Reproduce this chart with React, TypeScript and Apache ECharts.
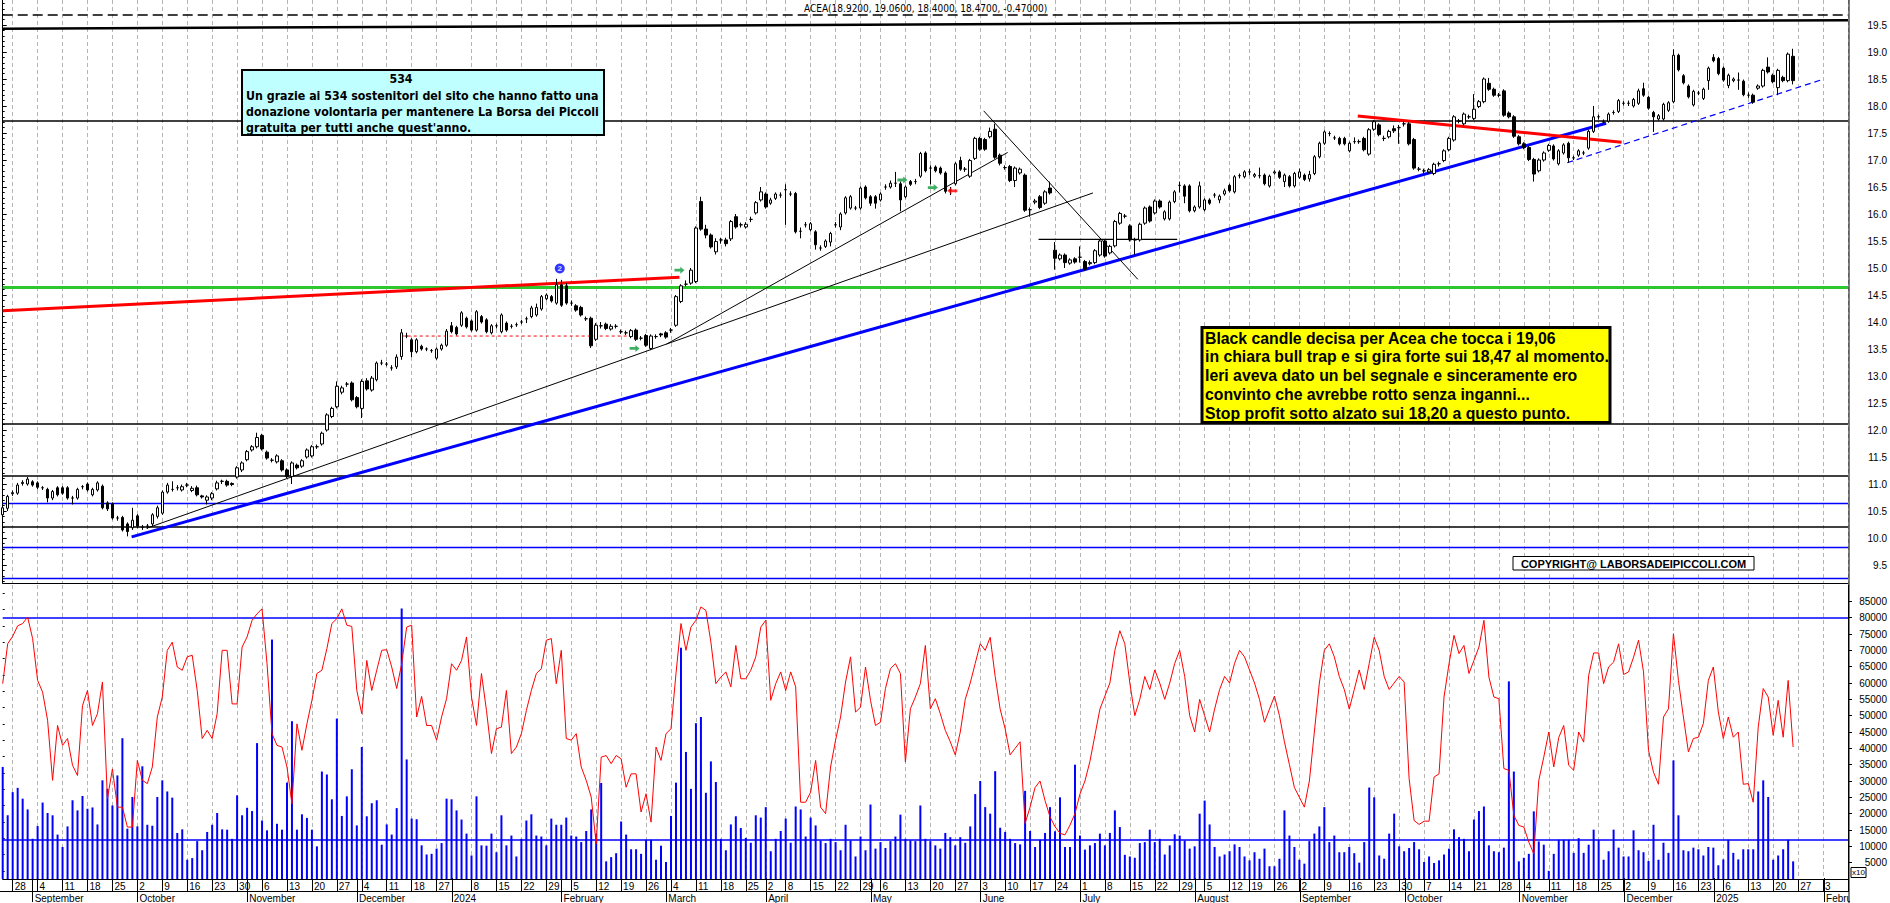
import React, { useEffect, useRef } from "react";
import * as echarts from "echarts";

// ---------------- calendar (trading days of Borsa Italiana) ----------------
const FIRST_DAY = "2023-08-24";
const SLOT_COUNT = 371;
const MARKET_HOLIDAYS = [
  "2023-12-25", "2023-12-26", "2024-01-01", "2024-03-29", "2024-04-01", "2024-05-01",
  "2024-08-15", "2024-12-24", "2024-12-25", "2024-12-26", "2024-12-31", "2025-01-01",
];
const MONTH_NAMES = ["January", "February", "March", "April", "May", "June", "July", "August", "September", "October", "November", "December"];

function buildTradingDays(): string[] {
  const out: string[] = [];
  const d = new Date(FIRST_DAY + "T00:00:00Z");
  while (out.length < SLOT_COUNT) {
    const dow = d.getUTCDay();
    const s = d.toISOString().slice(0, 10);
    if (dow !== 0 && dow !== 6 && MARKET_HOLIDAYS.indexOf(s) < 0) out.push(s);
    d.setUTCDate(d.getUTCDate() + 1);
  }
  return out;
}
const DATES = buildTradingDays();

// ---------------- price data: [open, close, low, high] ----------------
const CANDLES = [
  [10.43,10.56,10.39,10.60],[10.55,10.77,10.50,10.80],[10.82,10.84,10.78,10.88],[10.83,10.98,10.80,11.02],[11.01,11.03,10.97,11.07],
  [11.00,11.09,10.97,11.13],[11.04,10.98,10.95,11.07],[11.02,10.94,10.90,11.05],[10.93,10.93,10.89,10.96],[10.90,10.74,10.66,10.93],
  [10.74,10.86,10.70,10.89],[10.93,10.80,10.77,10.96],[10.93,10.83,10.80,10.96],[10.93,10.74,10.71,10.96],[10.74,10.74,10.62,10.78],
  [10.74,10.90,10.71,10.93],[10.95,10.95,10.90,10.98],[11.00,10.89,10.86,11.03],[10.80,10.90,10.77,10.93],[10.89,11.02,10.86,11.05],
  [10.96,10.56,10.53,10.99],[10.65,10.54,10.50,10.68],[10.63,10.37,10.34,10.66],[10.37,10.37,10.32,10.41],[10.38,10.15,10.12,10.41],
  [10.26,10.12,10.03,10.29],[10.19,10.33,10.15,10.56],[10.41,10.22,10.18,10.44],[10.20,10.20,10.15,10.24],[10.22,10.22,10.17,10.26],
  [10.26,10.43,10.22,10.46],[10.40,10.56,10.36,10.60],[10.46,10.85,10.43,10.88],[10.85,10.98,10.82,11.02],[10.90,10.90,10.86,11.05],
  [10.93,10.93,10.88,10.98],[10.89,10.95,10.86,10.99],[10.98,10.98,10.94,11.02],[10.88,10.92,10.85,10.96],[10.93,10.80,10.77,10.97],
  [10.78,10.76,10.73,10.80],[10.70,10.76,10.62,10.79],[10.74,10.82,10.70,10.85],[10.91,11.02,10.88,11.06],[11.05,11.05,11.00,11.08],
  [11.05,10.98,10.95,11.08],[11.01,10.99,10.96,11.03],[11.13,11.30,11.10,11.33],[11.26,11.39,11.22,11.42],[11.45,11.60,11.42,11.63],
  [11.63,11.69,11.60,11.72],[11.69,11.86,11.66,11.95],[11.90,11.65,11.62,11.93],[11.59,11.48,11.45,11.62],[11.44,11.44,11.40,11.48],
  [11.41,11.52,11.38,11.55],[11.43,11.26,11.23,11.46],[11.26,11.14,11.11,11.29],[11.14,11.39,11.00,11.42],[11.35,11.30,11.27,11.38],
  [11.33,11.43,11.30,11.46],[11.50,11.63,11.47,11.66],[11.52,11.69,11.49,11.72],[11.69,11.69,11.65,11.73],[11.74,11.94,11.71,11.97],
  [12.00,12.28,11.97,12.31],[12.25,12.40,12.22,12.43],[12.43,12.81,12.40,12.90],[12.70,12.78,12.66,12.82],[12.85,12.85,12.80,12.89],
  [12.87,12.56,12.53,12.90],[12.60,12.43,12.40,12.63],[12.40,12.90,12.22,12.94],[12.91,12.76,12.73,12.96],[12.74,12.96,12.71,13.00],
  [12.93,13.24,12.90,13.27],[13.24,13.24,13.20,13.30],[13.22,13.22,13.18,13.26],[13.15,13.15,13.10,13.20],[13.17,13.35,13.13,13.40],
  [13.36,13.80,13.30,13.87],[13.74,13.74,13.70,13.80],[13.67,13.45,13.35,13.70],[13.45,13.67,13.42,13.70],[13.55,13.50,13.47,13.58],
  [13.50,13.50,13.46,13.53],[13.47,13.47,13.43,13.50],[13.33,13.50,13.30,13.53],[13.50,13.57,13.47,13.60],[13.57,13.83,13.54,13.87],
  [13.93,13.82,13.79,14.00],[13.90,13.78,13.75,13.93],[13.94,14.17,13.91,14.20],[14.07,13.91,13.88,14.10],[14.02,13.85,13.82,14.05],
  [13.85,14.19,13.82,14.22],[14.10,14.00,13.97,14.13],[14.04,13.82,13.79,14.07],[13.80,13.93,13.77,13.96],[13.93,13.93,13.88,13.97],
  [13.82,14.13,13.79,14.16],[13.98,13.85,13.82,14.01],[13.92,13.92,13.88,13.96],[13.95,13.95,13.91,13.99],[14.00,14.00,13.96,14.04],
  [14.06,14.06,13.98,14.10],[14.10,14.26,14.07,14.30],[14.13,14.27,14.10,14.34],[14.24,14.47,14.21,14.50],[14.43,14.50,14.40,14.53],
  [14.47,14.39,14.36,14.50],[14.35,14.69,14.32,14.80],[14.69,14.31,14.28,14.78],[14.67,14.35,14.32,14.72],[14.35,14.35,14.30,14.40],
  [14.30,14.22,14.19,14.33],[14.27,14.13,14.10,14.30],[14.06,14.06,14.02,14.10],[14.07,13.56,13.52,14.10],[13.68,13.94,13.65,13.98],
  [13.93,13.93,13.88,14.00],[13.96,13.88,13.85,13.99],[13.87,13.92,13.84,13.96],[13.92,13.92,13.88,13.96],[13.82,13.82,13.78,13.86],
  [13.80,13.80,13.76,13.84],[13.73,13.84,13.70,13.87],[13.85,13.68,13.65,13.88],[13.70,13.70,13.66,13.74],[13.75,13.57,13.54,13.78],
  [13.51,13.74,13.48,13.77],[13.73,13.73,13.69,13.77],[13.78,13.76,13.72,13.80],[13.80,13.72,13.69,13.83],[13.85,13.85,13.80,13.89],
  [13.94,14.47,13.91,14.50],[14.38,14.67,14.35,14.70],[14.70,14.70,14.66,14.77],[14.72,14.96,14.69,15.00],[14.75,15.74,14.72,15.77],
  [16.23,15.72,15.69,16.32],[15.72,15.61,15.55,15.80],[15.61,15.39,15.36,15.64],[15.30,15.49,15.25,15.55],[15.52,15.52,15.45,15.56],
  [15.52,15.45,15.40,15.56],[15.54,15.86,15.50,15.89],[15.95,15.76,15.73,16.00],[15.80,15.80,15.75,15.84],[15.76,15.81,15.73,15.85],
  [15.90,15.90,15.85,15.95],[16.02,16.21,15.99,16.24],[16.26,16.41,16.23,16.50],[16.37,16.13,16.10,16.40],[16.20,16.26,16.17,16.30],
  [16.29,16.37,16.26,16.40],[16.35,16.35,16.30,16.40],[16.45,16.45,15.80,16.55],[16.37,16.37,16.33,16.42],[16.38,15.67,15.64,16.41],
  [15.68,15.68,15.55,15.75],[15.80,15.80,15.75,15.85],[15.71,15.82,15.68,15.85],[15.67,15.43,15.34,15.70],[15.37,15.37,15.32,15.42],
  [15.40,15.50,15.37,15.53],[15.48,15.64,15.40,15.67],[15.80,15.80,15.75,15.85],[15.76,16.00,15.70,16.03],[16.02,16.30,15.99,16.33],
  [16.11,16.32,16.08,16.35],[16.11,16.11,16.07,16.15],[16.11,16.48,16.08,16.51],[16.50,16.30,16.27,16.53],[16.32,16.20,16.15,16.35],
  [16.32,16.20,16.10,16.35],[16.26,16.37,16.23,16.40],[16.50,16.50,16.45,16.55],[16.50,16.57,16.47,16.62],[16.57,16.57,16.50,16.78],
  [16.56,16.26,16.05,16.60],[16.32,16.50,16.29,16.53],[16.60,16.55,16.52,16.63],[16.60,16.60,16.55,16.65],[16.70,17.12,16.67,17.15],
  [17.13,16.80,16.77,17.16],[16.85,16.85,16.55,16.90],[16.87,16.80,16.77,16.90],[16.85,16.76,16.73,16.88],[16.76,16.42,16.38,16.79],
  [16.44,16.44,16.35,16.50],[16.56,16.93,16.53,16.96],[16.99,16.83,16.80,17.06],[16.83,16.83,16.78,16.87],[16.70,16.99,16.67,17.02],
  [17.03,17.40,17.00,17.43],[17.40,17.20,17.17,17.43],[17.38,17.20,17.17,17.41],[17.43,17.53,17.40,17.60],[17.57,17.05,17.02,17.67],
  [17.09,16.94,16.90,17.12],[16.86,16.86,16.82,16.90],[16.88,16.62,16.59,16.91],[16.62,16.85,16.50,16.88],[16.76,16.83,16.73,16.86],
  [16.72,16.07,16.04,16.75],[16.08,16.08,15.95,16.12],[16.22,16.24,16.18,16.28],[16.32,16.12,16.09,16.35],[16.20,16.41,16.17,16.44],
  [16.48,16.39,16.36,16.60],[15.33,15.18,14.97,15.48],[15.17,15.24,15.14,15.27],[15.24,15.10,15.00,15.27],[15.09,15.15,15.06,15.18],
  [15.17,15.11,15.08,15.20],[15.20,15.20,15.10,15.40],[15.12,14.98,14.95,15.15],[15.08,15.10,15.05,15.14],[15.10,15.32,15.07,15.35],
  [15.24,15.50,15.21,15.53],[15.50,15.22,15.19,15.53],[15.28,15.40,15.25,15.43],[15.41,15.86,15.38,15.89],[15.83,16.01,15.80,16.04],
  [15.96,15.96,15.92,16.00],[15.78,15.52,15.49,15.81],[15.52,15.52,15.25,15.56],[15.52,15.81,15.49,15.84],[15.83,16.11,15.80,16.14],
  [16.13,15.87,15.84,16.16],[16.02,16.24,15.99,16.27],[16.24,16.13,16.10,16.27],[15.91,16.04,15.88,16.07],[15.91,16.22,15.88,16.25],
  [16.23,16.41,16.20,16.44],[16.53,16.53,16.40,16.60],[16.52,16.33,16.20,16.55],[16.52,16.06,16.03,16.55],[16.06,16.13,16.03,16.16],
  [16.13,16.52,16.10,16.60],[16.08,16.26,16.05,16.29],[16.26,16.20,16.17,16.29],[16.35,16.35,16.30,16.39],[16.26,16.33,16.20,16.36],
  [16.37,16.43,16.34,16.47],[16.53,16.43,16.40,16.56],[16.41,16.69,16.38,16.72],[16.71,16.71,16.66,16.75],[16.69,16.78,16.66,16.81],
  [16.78,16.78,16.72,16.83],[16.70,16.73,16.67,16.76],[16.71,16.71,16.66,16.86],[16.72,16.56,16.53,16.75],[16.52,16.70,16.49,16.73],
  [16.76,16.78,16.73,16.81],[16.78,16.68,16.65,16.81],[16.60,16.72,16.50,16.75],[16.69,16.52,16.49,16.72],[16.52,16.75,16.49,16.78],
  [16.68,16.78,16.65,16.84],[16.72,16.64,16.61,16.75],[16.65,16.73,16.60,16.80],[16.75,17.06,16.72,17.09],[17.06,17.31,17.03,17.34],
  [17.31,17.52,17.28,17.55],[17.49,17.49,17.44,17.53],[17.41,17.41,17.37,17.45],[17.40,17.30,17.27,17.43],[17.40,17.30,17.27,17.43],
  [17.17,17.31,17.14,17.34],[17.34,17.34,17.30,17.42],[17.34,17.34,17.30,17.38],[17.40,17.19,17.16,17.43],[17.11,17.56,17.08,17.59],
  [17.57,17.71,17.54,17.74],[17.65,17.47,17.44,17.68],[17.40,17.40,17.35,17.45],[17.43,17.53,17.40,17.56],[17.58,17.54,17.50,17.64],
  [17.60,17.60,17.30,17.65],[17.67,17.67,17.62,17.72],[17.67,17.30,17.27,17.70],[17.38,16.85,16.82,17.41],[16.83,16.83,16.79,16.87],
  [16.80,16.80,16.76,16.84],[16.78,16.82,16.75,16.85],[16.75,16.92,16.72,16.95],[16.93,16.93,16.88,16.97],[16.99,17.17,16.96,17.20],
  [17.19,17.40,17.16,17.43],[17.37,17.80,17.34,17.83],[17.72,17.72,17.68,17.76],[17.67,17.85,17.64,17.88],[17.80,17.80,17.76,17.84],
  [17.77,17.94,17.74,18.22],[17.99,18.08,17.96,18.11],[18.08,18.50,18.05,18.53],[18.42,18.31,18.28,18.52],[18.31,18.20,18.17,18.34],
  [18.20,18.20,18.16,18.24],[18.28,17.83,17.80,18.31],[17.87,17.80,17.77,17.90],[17.80,17.44,17.41,17.83],[17.43,17.30,17.27,17.46],
  [17.30,17.23,17.20,17.33],[17.23,17.01,16.98,17.26],[17.01,16.74,16.60,17.04],[16.80,17.00,16.77,17.03],[17.00,17.13,16.97,17.16],
  [17.18,17.27,17.15,17.30],[17.26,17.02,16.99,17.29],[16.93,17.17,16.90,17.20],[17.13,17.28,17.10,17.31],[17.31,17.04,16.95,17.34],
  [17.04,17.04,17.00,17.08],[17.09,17.17,17.06,17.20],[17.13,17.13,17.09,17.17],[17.22,17.53,17.19,17.56],[17.53,17.80,17.50,18.00],
  [17.80,17.80,17.75,17.84],[17.70,17.71,17.67,17.75],[17.72,17.85,17.69,17.88],[17.88,17.88,17.84,17.92],[17.90,18.10,17.87,18.13],
  [18.05,18.05,18.01,18.09],[18.05,18.05,18.00,18.10],[18.00,18.12,17.97,18.15],[18.05,18.28,18.02,18.32],[18.32,18.20,18.17,18.43],
  [18.16,17.96,17.93,18.19],[17.88,17.80,17.52,17.91],[17.76,17.82,17.73,17.85],[17.76,18.03,17.73,18.06],[17.92,18.06,17.89,18.09],
  [18.08,18.94,18.05,19.05],[18.94,18.67,18.64,18.97],[18.56,18.43,18.40,18.59],[18.37,18.17,18.14,18.40],[18.02,18.27,17.99,18.30],
  [18.24,18.24,18.20,18.28],[18.14,18.31,18.11,18.34],[18.47,18.70,18.30,18.73],[18.90,18.84,18.81,18.96],[18.88,18.60,18.57,18.91],
  [18.70,18.48,18.45,18.73],[18.38,18.57,18.33,18.60],[18.47,18.50,18.44,18.53],[18.48,18.48,18.30,18.62],[18.46,18.21,18.18,18.49],
  [18.20,18.20,18.15,18.25],[18.20,18.07,18.04,18.23],[18.33,18.37,18.30,18.40],[18.37,18.66,18.34,18.69],[18.72,18.63,18.60,18.90],
  [18.57,18.45,18.42,18.60],[18.34,18.66,18.20,18.69],[18.53,18.47,18.44,18.56],[18.47,18.96,18.44,18.99],[18.92,18.47,18.40,19.06],
];

// ---------------- lower panel: volume (thousands) and red oscillator ----------------
const VOLUME_K = [
  34.3,19.5,26.6,27.9,24.6,21.3,12.3,16.2,23.4,20.2, 19.5,13.6,9.8,16.1,24.1,21.0,25.4,21.5,21.9,16.7,
  30.2,27.6,22.5,31.7,43.1,15.4,25.1,16.1,34.5,16.6, 16.3,25.1,30.2,26.8,24.9,14.1,15.2,5.9,6.4,11.6,
  8.8,14.4,16.6,20.2,15.2,15.1,12.3,25.6,19.5,21.8, 20.8,41.6,17.9,14.9,73.3,16.9,15.1,29.5,48.3,15.1,
  19.8,18.7,15.1,10.0,32.9,32.0,24.4,49.1,19.3,25.3, 33.6,16.4,40.4,19.2,23.2,24.1,10.5,16.7,13.6,21.7,
  82.8,36.6,18.5,18.3,10.3,7.5,7.7,9.3,11.0,24.6, 24.4,21.0,18.2,13.9,7.2,25.3,10.3,10.2,13.9,8.2,
  19.5,10.3,13.3,6.9,12.3,17.9,19.8,13.3,13.0,10.3, 18.5,16.6,16.6,18.8,13.3,13.0,11.3,14.7,21.3,13.9,
  29.4,5.4,6.7,7.9,17.6,13.6,9.1,9.1,7.7,12.0, 12.0,5.9,10.2,5.2,19.3,29.5,70.8,38.9,27.6,47.7,
  49.6,26.4,36.0,29.7,12.3,8.8,16.7,19.2,15.6,12.6, 11.1,19.5,18.8,22.0,8.5,12.3,14.7,18.5,11.1,22.2,
  21.3,13.0,18.8,16.4,11.8,11.0,12.3,11.3,8.8,16.6, 11.8,6.9,13.0,8.8,22.8,9.3,11.3,9.5,11.6,13.0,
  19.7,12.3,11.8,11.6,22.5,12.3,11.6,10.3,
  9.3,14.1,12.8,10.3,12.8,11.1,16.1,26,30,22, 20,33,15.7,14.4,12.3,11.0,10.6,27,14.7,9.8,
  12.0,14.1,22,14.6,25,9.8,9.8,35,13.3,9.0, 10.3,11.0,13.9,10.3,14.1,21,15.9,7.4,6.9,6.5,
  11.0,11.3,15.1,11.3,12.3,7.5,10.3,13.7,13.3,11.8, 9.3,10.0,20,24,16.7,9.8,6.9,7.5,8.5,10.6,
  9.8,6.9,5.7,8.2,6.2,9.3,3.9,3.9,6.2,21, 13.3,9.8,5.9,4.7,11.6,13.9,16.1,22,11.3,13.3,
  8.2,8.2,9.8,7.9,5.0,11.3,28,25,7.2,6.2, 13.9,20,10.0,
  8.5,9.5,11.3,9.1,5.2,6.9,4.9,5.7,7.5,9.3, 15.2,12.8,12.3,8.5,18.2,20.8,22.2,10.3,8.5,8.2,
  9.6,60.5,32.9,5.4,6.5,7.7,20.7,11.5,10.5,2.5, 7.7,12.0,12.0,12.0,8.0,12.5,8.0,10.5,15.1,12.0,
  5.9,8.5,15.1,9.6,6.9,6.9,14.9,8.8,8.2,5.5, 16.6,5.9,11.1,8.0,36.3,19.5,8.8,8.5,9.6,9.1,
  7.2,9.8,9.6,4.2,6.0,12.0,8.0,6.0,9.1,9.1, 9.1,26.8,30.2,25.1,5.9,7.2,9.1,12.0,5.4,
];

const OSC_K = [
  59.8,72.0,74.3,77.5,78.2,
  80.2,73.6,60.8,57.2,48.6,30.2,47.0,40.9,43.0,34.8, 31.7,53.1,57.7,47.0,50.6,60.3,24.6,33.7,22.0,22.0,
  15.9,15.9,36.3,30.2,29.2,34.3,49.6,55.7,70.0,72.5, 64.9,63.9,68.0,68.5,57.7,43.0,45.5,43.0,50.6,70.0,
  70.0,53.6,53.6,71.0,74.1,79.2,81.2,82.7,65.9,44.5, 40.9,40.4,34.3,23.0,47.5,39.4,47.5,54.7,62.9,63.9,
  70.5,78.2,79.7,82.7,77.7,77.3,57.7,50.6,66.9,57.7, 63.9,70.0,70.2,64.9,58.3,65.9,77.1,77.7,49.6,55.9,
  47.0,47.0,42.5,49.6,55.2,65.9,63.9,66.9,74.1,55.7, 47.0,62.9,51.6,38.4,46.0,46.5,57.7,38.4,40.4,44.5,
  51.6,57.7,62.9,64.4,73.1,73.6,59.8,70.0,43.0,42.5, 44.5,34.3,30.2,25.1,10.8,37.3,37.8,35.3,37.8,36.8,
  28.1,32.2,32.2,20.5,26.1,17.4,40.4,36.3,44.5,46.0, 62.9,78.2,70.0,77.1,79.2,83.3,82.2,72.5,59.8,61.8,
  63.4,58.8,71.5,61.3,61.3,63.9,68.0,77.1,79.2,54.7, 59.8,63.4,57.7,63.4,58.8,23.5,23.5,26.6,36.3,22.0,
  20.0,34.3,42.5,49.6,60.3,68.0,51.1,52.6,64.9,54.7, 47.0,48.0,58.3,64.4,65.9,62.9,35.8,52.1,55.7,59.8,
  71.5,52.1,55.2,50.6,45.5,
  42,38,45,55,60,66,72,70,74,62, 52,46,38,40,42,17,22,28,30,24,
  19,16,14,13.5,16.5,20,26,30,36,44, 52,56,60,70,76,72,60,50,55,62,
  58,64,60,55,60,66,70,62,50,45, 55,50,45,52,58,62,60,66,70,68,
  64,60,55,48,52,56,50,42,35,28, 25,22,30,45,60,70,72,68,62,58,
  52,58,64,58,66,74,70,62,58,60, 62,
  60.3,30.7,17.9,16.7,17.7,17.7,31.2,32.2,55.7,65.9, 74.6,69.0,71.5,62.9,66.9,71.0,79.2,61.8,55.7,55.2,
  33.8,33.3,19.5,16.4,15.9,11.3,7.7,30.2,37.3,45.0, 34.3,43.3,47.0,34.8,33.3,45.0,41.9,62.3,69.2,69.2,
  59.8,64.9,66.4,72.0,62.6,63.4,67.9,73.1,63.4,39.4, 32.7,29.0,49.6,52.1,75.1,60.8,49.6,38.9,43.0,43.4,
  47.6,60.8,64.9,51.1,43.0,49.6,43.4,45.0,29.0,29.2, 23.5,46.5,58.3,55.7,44.0,54.7,43.4,60.8,40.4,
];

// ---------------- axes ticks / levels / drawn lines ----------------
const PRICE_TICKS = [9.5,10,10.5,11,11.5,12,12.5,13,13.5,14,14.5,15,15.5,16,16.5,17,17.5,18,18.5,19,19.5];
const VOLUME_TICKS = [5,10,15,20,25,30,35,40,45,50,55,60,65,70,75,80,85];
const BLACK_LEVELS = [17.735, 12.105, 11.15, 10.198];
const BLUE_LEVELS = [10.64, 9.828, 9.254];
const GREEN_LEVEL = 14.64;
const TOP_DASHED_LEVEL = 19.69;
const VOLUME_LEVELS = [80, 12];

// trend lines: [dayIndex, price]
const TL_TOP = [[0, 19.43], [370, 19.59]];
const TL_BLUE = [[25.85, 10.02], [321.5, 17.68]];
const TL_THIN_A = [[28.86, 10.18], [218.6, 16.39]];
const TL_THIN_B = [[133.1, 13.59], [201.5, 17.14]];
const TL_THIN_DOWN = [[196.7, 17.91], [227.6, 14.79]];
const TL_FLAT = [[207.7, 15.53], [235.5, 15.53]];
const TL_RED_LEFT = [[0, 14.21], [135.7, 14.83]];
const TL_RED_DASH = [[80.0, 13.74], [126.1, 13.74]];
const TL_RED_RIGHT = [[271.7, 17.815], [324.6, 17.33]];
const TL_BLUE_DASH = [[313.7, 16.95], [364.5, 18.48]];

const GREEN_ARROWS = [[126.7, 13.51], [135.7, 14.96], [180.4, 16.63], [186.5, 16.49]];
const RED_ARROWS = [[190.4, 16.43]];
const SIGNAL_TWO = [[111.7, 14.99]];

const NOTE_BLUE = [
  "Un grazie ai 534 sostenitori del sito che hanno fatto una",
  "donazione volontaria per mantenere La Borsa dei Piccoli",
  "gratuita per tutti anche quest'anno.",
];
const NOTE_YELLOW = [
  "Black candle decisa per Acea che tocca i 19,06",
  "in chiara bull trap e si gira forte sui 18,47 al momento.",
  "Ieri aveva dato un bel segnale e sinceramente ero",
  "convinto che avrebbe rotto senza inganni...",
  "Stop profit sotto alzato sui 18,20 a questo punto.",
];
const HEADER = "ACEA(18.9200, 19.0600, 18.4000, 18.4700, -0.47000)";

// ---------------- helpers ----------------
const FONT = "'Liberation Sans', Arial, Helvetica, sans-serif";
const NARROW = "'Liberation Sans Narrow', 'Arial Narrow', 'DejaVu Sans Condensed', 'Liberation Sans', sans-serif";
const utc = (s: string) => new Date(s + "T00:00:00Z");

const WEEK_MARK: boolean[] = DATES.map((s, i) => {
  if (i === 0) return false;
  const a = utc(DATES[i - 1]);
  const b = utc(s);
  const isStart = b.getUTCDay() < a.getUTCDay() || (b.getTime() - a.getTime()) / 86400000 >= 7;
  if (!isStart) return false;
  const mon = new Date(b.getTime() - (b.getUTCDay() - 1) * 86400000);
  const fri = new Date(mon.getTime() + 4 * 86400000);
  const hasNewYear = mon.getUTCFullYear() !== fri.getUTCFullYear() || (mon.getUTCMonth() === 0 && mon.getUTCDate() === 1);
  return !hasNewYear;
});
const MONTH_MARK: boolean[] = DATES.map((s, i) => i > 0 && s.slice(5, 7) !== DATES[i - 1].slice(5, 7));

const PRICE_MINOR: number[] = [];
for (let k = 92; k <= 199; k++) if (k % 5 !== 0) PRICE_MINOR.push(k / 10);
const VOLUME_MINOR: number[] = [];
for (let k = 1; k <= 35; k += 2) VOLUME_MINOR.push(k * 2.5);

const GRID_LEFT = 2.7;
const GRID_RIGHT = 41;
const P_MAX = 19.5 + 25 / 54;
const P_MIN = P_MAX - 583 / 54;

function trend(data: number[][], color: string, width: number, type: any = "solid", z = 6) {
  return {
    type: "line", xAxisIndex: 1, yAxisIndex: 0, data, symbol: "none", showSymbol: false,
    silent: true, z, lineStyle: { color, width, type }, animation: false,
  };
}

function txt(text: string, x: number, y: number, font: string, align = "left", z = 101) {
  return {
    type: "text", x, y, z,
    style: { text, font, fill: "#000", textAlign: align, align, textVerticalAlign: "middle", verticalAlign: "middle" },
  };
}

function buildOption(): any {
  const yHidden = (grid: number) => ({ gridIndex: grid, type: "value", show: false, min: 0, max: 1 });
  const xHidden = (grid: number) => ({ gridIndex: grid, type: "value", show: false, min: 0, max: SLOT_COUNT - 1 });
  const gridLine = { show: true, interval: (i: number) => WEEK_MARK[i], lineStyle: { color: "#b4b4b4", type: [4, 3], width: 1 } };
  const axisText = { fontFamily: FONT, fontSize: 10, color: "#000" };

  const graphics: any[] = [
    txt(HEADER, 804, 8, `10px ${NARROW}`),
    { type: "rect", z: 100, shape: { x: 242, y: 70, width: 362, height: 65 }, style: { fill: "#C0FFFF", stroke: "#000", lineWidth: 2 } },
    txt("534", 401, 78.5, `bold 12.3px ${NARROW}`, "center"),
    ...NOTE_BLUE.map((t, k) => txt(t, 246, 95.5 + k * 16.3, `bold 12.3px ${NARROW}`)),
    { type: "rect", z: 100, shape: { x: 1202, y: 327.5, width: 408, height: 95 }, style: { fill: "#FFFF00", stroke: "#000", lineWidth: 3 } },
    ...NOTE_YELLOW.map((t, k) => txt(t, 1205, 338 + k * 18.8, `bold 15.8px ${FONT}`)),
    { type: "rect", z: 100, shape: { x: 1513, y: 556.5, width: 241, height: 13.5 }, style: { fill: "#fff", stroke: "#000", lineWidth: 1 } },
    txt("COPYRIGHT@ LABORSADEIPICCOLI.COM", 1633.5, 563.5, `bold 11px ${FONT}`, "center"),
    { type: "rect", z: 100, shape: { x: 1850, y: 879.5, width: 40, height: 23.5 }, style: { fill: "#fff" } },
    { type: "line", z: 101, shape: { x1: 0, y1: 891.5, x2: 1849, y2: 891.5 }, style: { stroke: "#000", lineWidth: 1 } },
    { type: "line", z: 101, shape: { x1: 1849, y1: 0, x2: 1849, y2: 903 }, style: { stroke: "#000", lineWidth: 1 } },
    { type: "rect", z: 100, shape: { x: 1851, y: 867.5, width: 15, height: 10 }, style: { fill: "#fff", stroke: "#000", lineWidth: 1 } },
    txt("x10", 1858.5, 872.5, `8px ${FONT}`, "center"),
  ];

  return {
    animation: false,
    backgroundColor: "#ffffff",
    grid: [
      { left: GRID_LEFT, right: GRID_RIGHT, top: 0, height: 583 },
      { left: GRID_LEFT, right: GRID_RIGHT, top: 585, height: 294 },
      { left: GRID_LEFT, right: GRID_RIGHT, top: 585, height: 294 },
      { left: GRID_LEFT, right: GRID_RIGHT, top: 0, height: 583 },
      { left: GRID_LEFT, right: GRID_RIGHT, top: 585, height: 294 },
    ],
    xAxis: [
      {
        gridIndex: 0, type: "category", data: DATES, boundaryGap: false,
        axisLine: { show: true, lineStyle: { color: "#000", width: 1 } },
        axisTick: { show: false }, axisLabel: { show: false }, splitLine: gridLine,
      },
      xHidden(0),
      {
        gridIndex: 1, type: "category", data: DATES, boundaryGap: false,
        axisLine: { show: true, lineStyle: { color: "#000", width: 1 } },
        axisTick: { show: true, interval: (i: number) => WEEK_MARK[i], length: 13, lineStyle: { color: "#000" } },
        axisLabel: {
          ...axisText, interval: (i: number) => WEEK_MARK[i] && i < SLOT_COUNT - 2,
          formatter: (v: string) => String(parseInt(v.slice(8), 10)), align: "left", margin: 2, padding: [0, 0, 0, 2],
        },
        splitLine: gridLine,
      },
      {
        gridIndex: 2, type: "category", data: DATES, boundaryGap: false,
        axisLine: { show: false },
        axisTick: { show: true, interval: (i: number) => MONTH_MARK[i], length: 24, lineStyle: { color: "#000" } },
        axisLabel: {
          ...axisText, interval: (i: number) => MONTH_MARK[i],
          formatter: (v: string) => { const m = parseInt(v.slice(5, 7), 10); return m === 1 ? v.slice(0, 4) : MONTH_NAMES[m - 1]; },
          align: "left", margin: 15, padding: [0, 0, 0, 2],
        },
        splitLine: { show: false },
      },
      xHidden(3),
      xHidden(4),
    ],
    yAxis: [
      {
        gridIndex: 0, type: "value", position: "right", min: P_MIN, max: P_MAX,
        axisLine: { show: true, lineStyle: { color: "#000" } },
        axisTick: { show: true, customValues: PRICE_TICKS, length: 4, lineStyle: { color: "#000" } },
        axisLabel: { ...axisText, customValues: PRICE_TICKS, formatter: (v: number) => v.toFixed(1), align: "right", margin: 39 },
        splitLine: { show: false },
      },
      {
        gridIndex: 1, type: "value", position: "right", min: 0, max: 90,
        axisLine: { show: true, lineStyle: { color: "#000" } },
        axisTick: { show: true, customValues: VOLUME_TICKS, length: 4, lineStyle: { color: "#000" } },
        axisLabel: { ...axisText, customValues: VOLUME_TICKS, formatter: (v: number) => String(Math.round(v * 1000)), align: "right", margin: 39 },
        splitLine: { show: false },
      },
      yHidden(2),
      {
        gridIndex: 3, type: "value", position: "right", min: P_MIN, max: P_MAX,
        axisLine: { show: false },
        axisTick: { show: true, customValues: PRICE_MINOR, length: 2, lineStyle: { color: "#000" } },
        axisLabel: { show: false }, splitLine: { show: false },
      },
      {
        gridIndex: 4, type: "value", position: "right", min: 0, max: 90,
        axisLine: { show: false },
        axisTick: { show: true, customValues: VOLUME_MINOR, length: 2, lineStyle: { color: "#000" } },
        axisLabel: { show: false }, splitLine: { show: false },
      },
    ],
    series: [
      {
        type: "candlestick", xAxisIndex: 0, yAxisIndex: 0, data: CANDLES, barWidth: 3, clip: false, z: 8,
        itemStyle: { color: "#ffffff", color0: "#000000", borderColor: "#000000", borderColor0: "#000000", borderWidth: 1 },
        markLine: {
          symbol: ["none", "none"], silent: true, animation: false, label: { show: false },
          data: [
            { yAxis: TOP_DASHED_LEVEL, lineStyle: { color: "#000", width: 1.5, type: [10, 5] } },
            ...BLACK_LEVELS.map((v) => ({ yAxis: v, lineStyle: { color: "#000", width: 1.5, type: "solid" } })),
            ...BLUE_LEVELS.map((v) => ({ yAxis: v, lineStyle: { color: "#0000ff", width: 1.3, type: "solid" } })),
            { yAxis: GREEN_LEVEL, lineStyle: { color: "#2ec82e", width: 3, type: "solid" } },
          ],
        },
      },
      trend(TL_TOP, "#000", 2.5),
      trend(TL_BLUE, "#0000ff", 3),
      trend(TL_THIN_A, "#000", 1),
      trend(TL_THIN_B, "#000", 1),
      trend(TL_THIN_DOWN, "#000", 1),
      trend(TL_FLAT, "#000", 1.2),
      trend(TL_RED_LEFT, "#ff0000", 3),
      trend(TL_RED_DASH, "#ff0000", 1, [3, 3]),
      trend(TL_RED_RIGHT, "#ff0000", 3),
      trend(TL_BLUE_DASH, "#0000ff", 1.2, [6, 4]),
      {
        type: "scatter", xAxisIndex: 1, yAxisIndex: 0, data: GREEN_ARROWS, z: 12, silent: true,
        symbol: "path://M0,3 L7,3 L7,0 L12,5 L7,10 L7,7 L0,7 Z", symbolSize: [10, 7],
        itemStyle: { color: "#109a3c" },
      },
      {
        type: "scatter", xAxisIndex: 1, yAxisIndex: 0, data: RED_ARROWS, z: 12, silent: true,
        symbol: "path://M12,3 L5,3 L5,0 L0,5 L5,10 L5,7 L12,7 Z", symbolSize: [10, 7],
        itemStyle: { color: "#ff0000" },
      },
      {
        type: "scatter", xAxisIndex: 1, yAxisIndex: 0, data: SIGNAL_TWO, z: 12, silent: true,
        symbol: "circle", symbolSize: 10, itemStyle: { color: "#0000ff" },
        label: { show: true, position: "inside", formatter: "2", color: "#fff", fontSize: 8, fontWeight: "bold", fontFamily: FONT },
      },
      {
        type: "bar", xAxisIndex: 2, yAxisIndex: 1, data: VOLUME_K, barWidth: 2, z: 3, silent: true,
        itemStyle: { color: "#0000ff" },
        markLine: {
          symbol: ["none", "none"], silent: true, animation: false, label: { show: false },
          data: VOLUME_LEVELS.map((v) => ({ yAxis: v, lineStyle: { color: "#0000ff", width: 1.5, type: "solid" } })),
        },
      },
      {
        type: "line", xAxisIndex: 2, yAxisIndex: 1, data: OSC_K, symbol: "none", showSymbol: false, z: 5, silent: true,
        lineStyle: { color: "#ff0000", width: 1 },
      },
    ],
    graphic: { elements: graphics },
  };
}

export default function App() {
  const ref = useRef<HTMLDivElement>(null);
  useEffect(() => {
    if (!ref.current) return;
    const chart = echarts.init(ref.current, null, { renderer: "svg" });
    chart.setOption(buildOption());
    return () => chart.dispose();
  }, []);
  return (
    <div
      ref={ref}
      style={{ position: "fixed", left: 0, top: 0, width: 1890, height: 903, background: "#fff" }}
    />
  );
}
